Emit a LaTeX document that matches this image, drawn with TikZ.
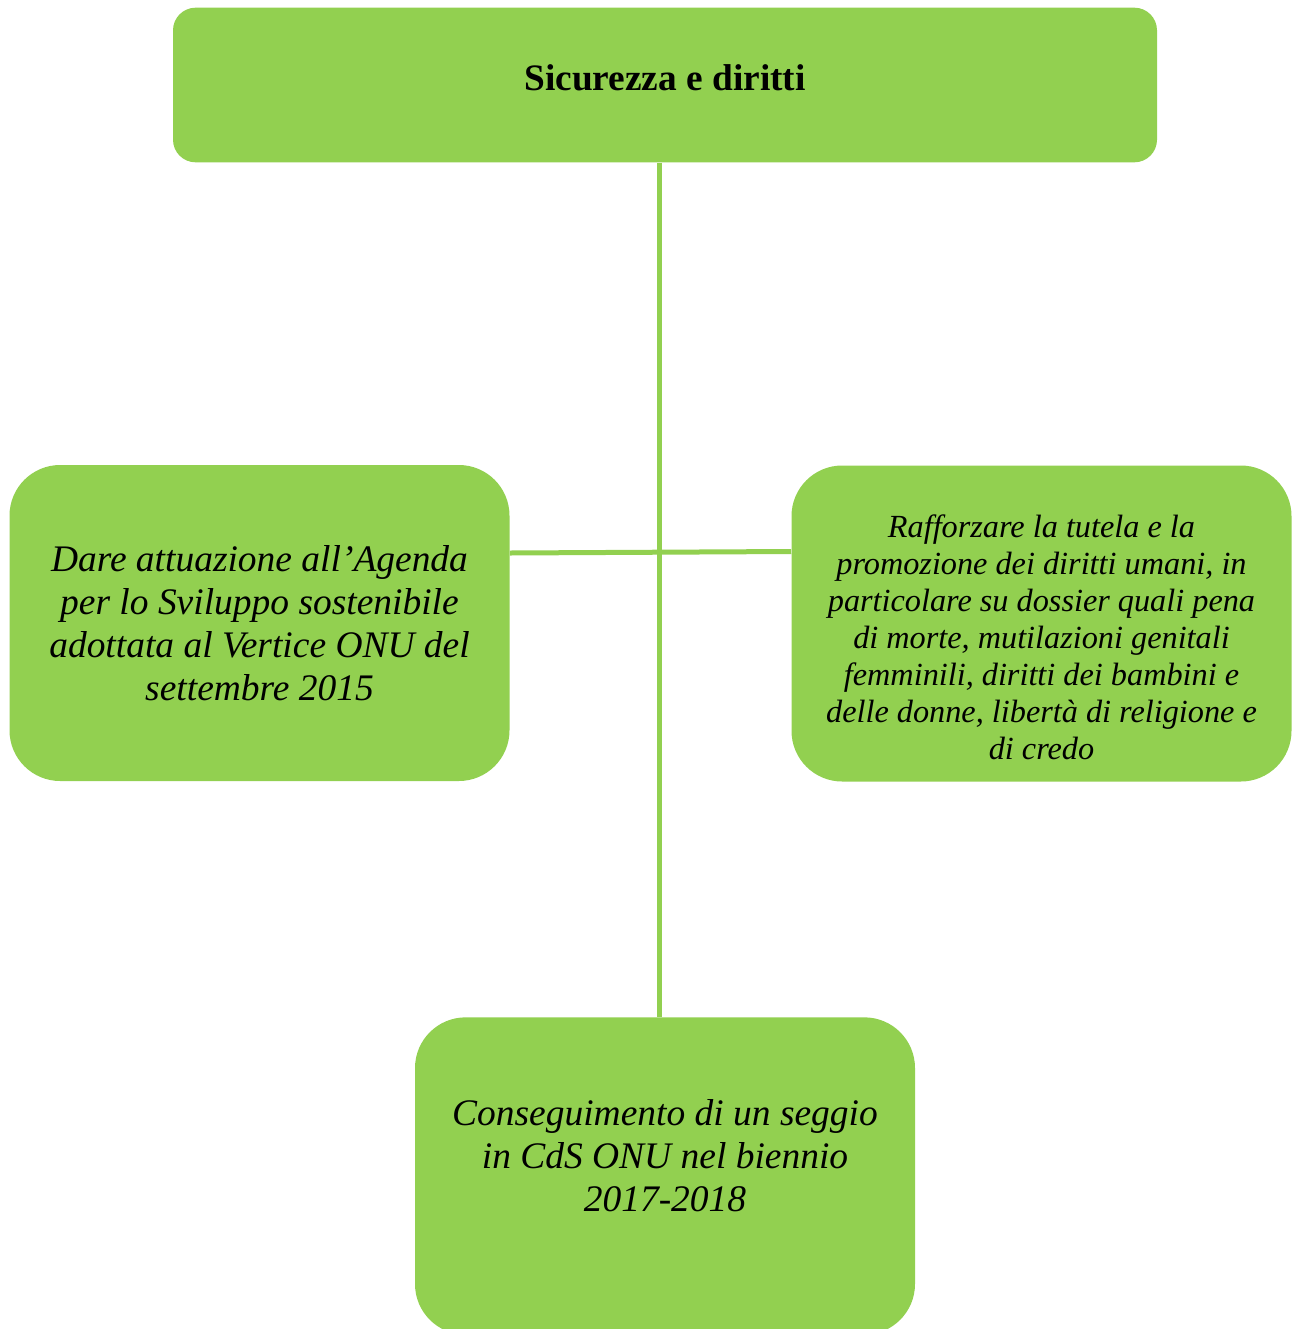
\documentclass[tikz,border=0pt]{standalone}
\usepackage{fontspec}
\setmainfont{Liberation Serif}
\usetikzlibrary{positioning}
\definecolor{leaf}{RGB}{146,208,80}
\tikzstyle{box}=[fill=leaf,rectangle,rounded corners=38pt,align=center,inner sep=0pt]
\tikzstyle{link}=[draw=leaf,line width=3.75pt]
\newcommand{\bigit}{\fontsize{28.1}{32.25}\selectfont\itshape}
\newcommand{\smallit}{\fontsize{24.2}{27.75}\selectfont\itshape}

\begin{document}
\begin{tikzpicture}[x=0.75pt,y=-0.75pt]
    \useasboundingbox (0,0) rectangle (1299,1329);
    \node[box, rounded corners=17pt, minimum width=738pt, minimum height=116pt,
          text depth=11pt, font=\fontsize{28}{32}\selectfont\bfseries] (top) at (665,85)
        {Sicurezza e diritti};
    \node[box, minimum width=375pt, minimum height=237pt, font=\bigit] (left) at (259.5,623)
        {Dare attuazione all'Agenda\\ per lo Sviluppo sostenibile\\ adottata al Vertice ONU del\\ settembre 2015};
    \node[box, minimum width=375pt, minimum height=237pt, font=\smallit] (right) at (1041.5,623.5)
        {\rule{0pt}{37pt}Rafforzare la tutela e la\\ promozione dei diritti umani, in\\ particolare su dossier quali pena\\ di morte, mutilazioni genitali\\ femminili, diritti dei bambini e\\ delle donne, libertà di religione e\\ di credo};
    \node[box, minimum width=375pt, minimum height=238pt, font=\bigit] (bot) at (665,1176)
        {Conseguimento di un seggio\\ in CdS ONU nel biennio\\ 2017-2018\\[-1pt]};
    \draw[link] ([xshift=-4.5pt]top.south) -- ([xshift=-4.5pt]bot.north);
    \draw[link] ([yshift=52.5pt]left.east) -- ([yshift=54pt]right.west);
\end{tikzpicture}
\end{document}
